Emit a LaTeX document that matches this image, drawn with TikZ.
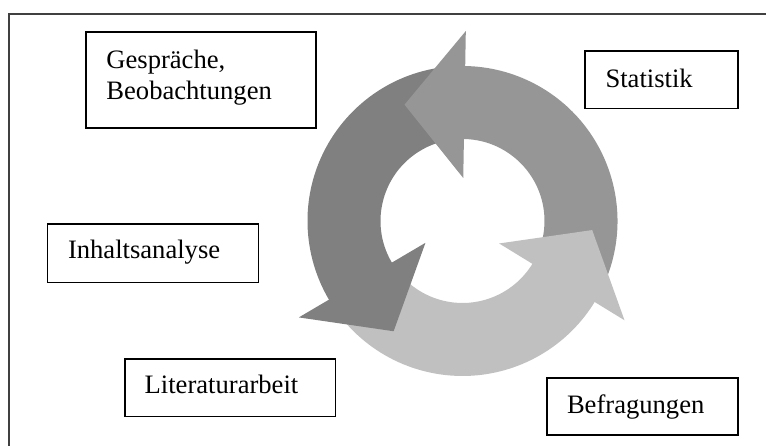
\documentclass[tikz,border=0pt]{standalone}
\usepackage{fontspec}
\setmainfont{Liberation Serif}
\definecolor{cdark}{HTML}{808080}
\definecolor{cmed}{HTML}{969696}
\definecolor{clight}{HTML}{C0C0C0}
\definecolor{framegray}{HTML}{404040}
\begin{document}
\begin{tikzpicture}[x=1pt,y=1pt,
  boxnode/.style={draw=black, line width=1.8pt, inner sep=0pt},
  lbl/.style={anchor=base west, inner sep=0pt, font=\fontsize{26.6}{31}\selectfont, align=left}]
\useasboundingbox (0,0) rectangle (766,446);
\clip (0,0) rectangle (766,446);
% outer frame (cut off at right and bottom)
\draw[line width=2pt, draw=framegray] (9,-5) -- (9,432.3) -- (780,432.3);
% cycle arrows
\begin{scope}[shift={(462.5,225)}]
  % bands
  \fill[cmed] (-26.5:155) arc[start angle=-26.5, end angle=91, radius=155]
     -- (91:82) arc[start angle=91, end angle=-26.5, radius=82] -- cycle;
  \fill[cdark] (94:155) arc[start angle=94, end angle=212.5, radius=155]
     -- (212.5:82) arc[start angle=212.5, end angle=94, radius=82] -- cycle;
  \fill[clight] (215.5:155) arc[start angle=215.5, end angle=330.5, radius=155]
     -- (330.5:82) arc[start angle=330.5, end angle=215.5, radius=82] -- cycle;
  % heads
  \fill[cmed] (89:190) -- (116.5:130) -- (89:43) -- cycle;
  \fill[cdark] (210.5:190) -- (238:130) -- (210.5:43) -- cycle;
  \fill[clight] (328.5:190) -- (356:130) -- (328.5:43) -- cycle;
\end{scope}
% boxes
\node[boxnode, minimum width=230pt, minimum height=95.7pt] (gb) at (201,366.15) {};
\node[boxnode, minimum width=153pt, minimum height=57.5pt] (sb) at (661.5,366.25) {};
\node[boxnode, minimum width=211pt, minimum height=58.5pt] (ib) at (153,192.75) {};
\node[boxnode, minimum width=210.5pt, minimum height=57.5pt] (lb) at (230.25,58.25) {};
\node[boxnode, minimum width=191.3pt, minimum height=57.3pt] (bb) at (642.65,39.35) {};
% texts
\node[lbl] (gt1) at (106.2,377.7) {Gespräche,};
\node[lbl] (gt2) at (106.2,346.7) {Beobachtungen};
\node[lbl] (st) at (605.3,358.7) {Statistik};
\node[lbl] (it) at (67.8,187) {Inhaltsanalyse};
\node[lbl] (lt) at (144.5,52.3) {Literaturarbeit};
\node[lbl] (bt) at (566.8,32) {Befragungen};
\end{tikzpicture}
\end{document}
